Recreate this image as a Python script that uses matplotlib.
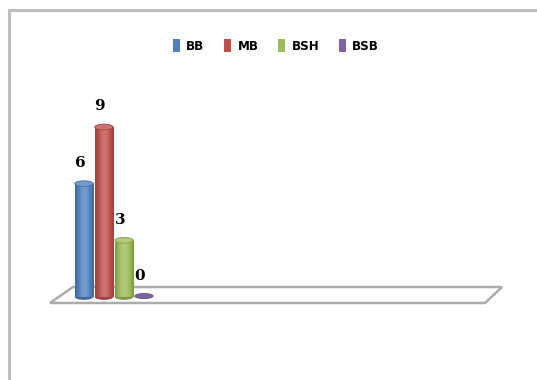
import numpy as np
import matplotlib
matplotlib.use("Agg")
import matplotlib.pyplot as plt
from matplotlib.patches import Ellipse, Polygon, Rectangle
from matplotlib.colors import LinearSegmentedColormap, to_rgb

series = ["BB", "MB", "BSH", "BSB"]
values = [6, 9, 3, 0]
colors = ["#4F81BD", "#C0504D", "#9BBB59", "#8064A2"]

fig = plt.figure(figsize=(5.37, 3.8), dpi=100)
fig.patch.set_facecolor("white")

# background layer in pixel coords: chart border + 3d floor
bg = fig.add_axes([0, 0, 1, 1])
bg.set_xlim(0, 537)
bg.set_ylim(380, 0)
bg.axis("off")
bg.plot([9, 9, 537], [380, 10, 10], color="#BDBDBD", lw=2.2, solid_capstyle="butt")
floor = Polygon([[50, 303], [73, 287], [502, 287], [485, 303]], closed=True,
                facecolor="white", edgecolor="#ABABAB", lw=1.8)
bg.add_patch(floor)

# bars
ax = fig.add_axes([74 / 537, (380 - 297) / 380, 80 / 537, 170 / 380])
ax.set_xlim(-0.5, 3.5)
ax.set_ylim(0, 9)
ax.axis("off")
ax.patch.set_alpha(0)

x = np.arange(len(series))
w = 0.92
cap = 0.3
bars = ax.bar(x, values, width=w, color=colors, label=series, zorder=2)

for xi, v, c, b in zip(x, values, colors, bars):
    rgb = np.array(to_rgb(c))
    dark = rgb * 0.8
    light = np.clip(rgb + (1 - rgb) * 0.2, 0, 1)
    cmap = LinearSegmentedColormap.from_list("cyl", [dark, rgb, light, light, rgb, dark])
    if v > 0:
        grad = np.linspace(0, 1, 64).reshape(1, -1)
        im = ax.imshow(grad, cmap=cmap, aspect="auto", zorder=3,
                       extent=[xi - w / 2, xi + w / 2, 0, v], clip_on=False)
        im.set_clip_path(b)
        ax.add_patch(Ellipse((xi, 0), w, cap, facecolor=dark, edgecolor="none", zorder=2.5, clip_on=False))
        ax.add_patch(Ellipse((xi, v), w, cap, facecolor=light, edgecolor=rgb * 0.85, lw=0.6, zorder=4, clip_on=False))
    else:
        ax.add_patch(Ellipse((xi, 0.05), w, cap * 0.9, facecolor=c, edgecolor=dark, lw=0.6, zorder=4, clip_on=False))
    ax.annotate(str(v), (xi, v), xytext=(-3, 15), textcoords="offset points",
                ha="center", va="center", fontsize=11, fontweight="bold",
                family="DejaVu Serif", clip_on=False)

handles = [Rectangle((0, 0), 1, 1, facecolor=c) for c in colors]
fig.legend(handles, series, loc="center", bbox_to_anchor=(276 / 537, 1 - 46 / 380),
           ncol=4, frameon=False, handlelength=0.5, handleheight=1.1,
           handletextpad=0.5, columnspacing=1.5,
           prop={"family": "DejaVu Sans", "weight": "heavy", "size": 9.5, "stretch": "condensed"})

fig.savefig("out.png", dpi=100, facecolor="white")
